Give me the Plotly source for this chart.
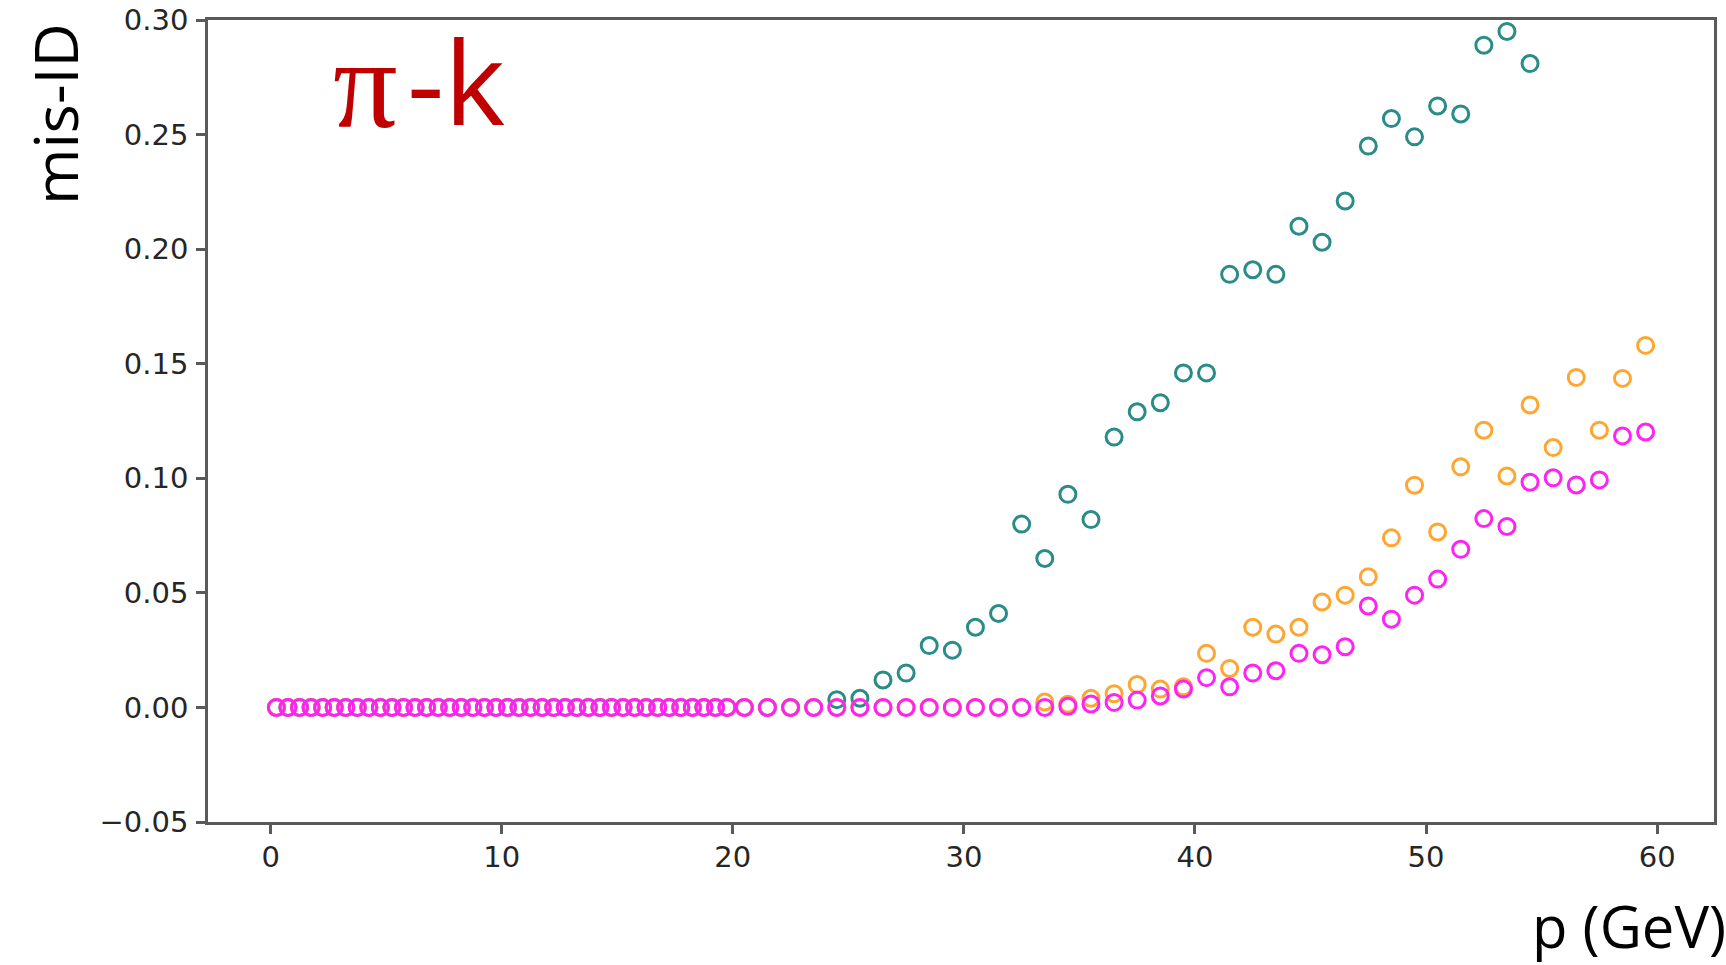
import plotly.graph_objects as go

# bin centres (GeV): 0.5-GeV bins below 20, 1-GeV bins above
p_fine = [0.25, 0.75, 1.25, 1.75, 2.25, 2.75, 3.25, 3.75, 4.25, 4.75,
          5.25, 5.75, 6.25, 6.75, 7.25, 7.75, 8.25, 8.75, 9.25, 9.75,
          10.25, 10.75, 11.25, 11.75, 12.25, 12.75, 13.25, 13.75, 14.25, 14.75,
          15.25, 15.75, 16.25, 16.75, 17.25, 17.75, 18.25, 18.75, 19.25, 19.75]
p_coarse = [20.5, 21.5, 22.5, 23.5, 24.5, 25.5, 26.5, 27.5, 28.5, 29.5,
            30.5, 31.5, 32.5, 33.5, 34.5, 35.5, 36.5, 37.5, 38.5, 39.5,
            40.5, 41.5, 42.5, 43.5, 44.5, 45.5, 46.5, 47.5, 48.5, 49.5,
            50.5, 51.5, 52.5, 53.5, 54.5, 55.5, 56.5, 57.5, 58.5, 59.5]
p_values = p_fine + p_coarse

zeros_fine = [0.0, 0.0, 0.0, 0.0, 0.0, 0.0, 0.0, 0.0, 0.0, 0.0,
              0.0, 0.0, 0.0, 0.0, 0.0, 0.0, 0.0, 0.0, 0.0, 0.0,
              0.0, 0.0, 0.0, 0.0, 0.0, 0.0, 0.0, 0.0, 0.0, 0.0,
              0.0, 0.0, 0.0, 0.0, 0.0, 0.0, 0.0, 0.0, 0.0, 0.0]

teal_coarse = [0.0, 0.0, 0.0, 0.0, 0.0034, 0.004, 0.012, 0.015, 0.027, 0.025,
               0.035, 0.041, 0.080, 0.065, 0.093, 0.082, 0.118, 0.129, 0.133, 0.146,
               0.146, 0.189, 0.191, 0.189, 0.210, 0.203, 0.221, 0.245, 0.257, 0.249,
               0.2625, 0.259, 0.289, 0.295, 0.281, None, None, None, None, None]
orange_coarse = [0.0, 0.0, 0.0, 0.0, 0.0, 0.0, 0.0, 0.0, 0.0, 0.0,
                 0.0, 0.0, 0.0, 0.0024, 0.0014, 0.004, 0.006, 0.010, 0.008, 0.009,
                 0.0236, 0.017, 0.035, 0.032, 0.035, 0.046, 0.049, 0.057, 0.074, 0.097,
                 0.0766, 0.105, 0.121, 0.101, 0.132, 0.1134, 0.144, 0.121, 0.1436, 0.158]
magenta_coarse = [0.0, 0.0, 0.0, 0.0, 0.0, 0.0, 0.0, 0.0, 0.0, 0.0,
                  0.0, 0.0, 0.0, 0.0, 0.0005, 0.0015, 0.0022, 0.0032, 0.005, 0.008,
                  0.013, 0.009, 0.015, 0.016, 0.0236, 0.023, 0.0265, 0.0443, 0.0385, 0.049,
                  0.056, 0.069, 0.0824, 0.079, 0.0983, 0.1002, 0.0971, 0.0993, 0.1185, 0.1202]

teal_vals = zeros_fine + teal_coarse
orange_vals = zeros_fine + orange_coarse
magenta_vals = zeros_fine + magenta_coarse

x_ticks = [0, 10, 20, 30, 40, 50, 60]
y_ticks = [-0.05, 0.0, 0.05, 0.10, 0.15, 0.20, 0.25, 0.30]
y_ticktext = ["\u22120.05", "0.00", "0.05", "0.10", "0.15", "0.20", "0.25", "0.30"]

series = [("teal", teal_vals, "#2a8c87"),
          ("orange", orange_vals, "#ffa630"),
          ("magenta", magenta_vals, "#ff22f4")]

W, H = 1726, 965
L, R, T, B = 208, 1714, 20, 822

fig = go.Figure()
for name, vals, col in series:
    fig.add_trace(go.Scatter(
        x=p_values, y=vals, mode="markers", name=name,
        marker=dict(symbol="circle-open", size=16, color=col,
                    line=dict(width=3, color=col)),
        cliponaxis=True, showlegend=False))

axis_common = dict(showline=True, linecolor="#5a5a5a", linewidth=2.5, mirror=True,
                   ticks="outside", ticklen=9, tickwidth=2.5, tickcolor="#5a5a5a",
                   showgrid=False, zeroline=False, automargin=False,
                   tickfont=dict(family="DejaVu Sans", size=29, color="#262626"))

fig.update_xaxes(range=[-2.71, 62.46], tickvals=x_ticks, ticklabelstandoff=-2,
                 **axis_common)
fig.update_yaxes(range=[-0.05, 0.30], tickvals=y_ticks, ticktext=y_ticktext,
                 ticklabelstandoff=2, **axis_common)


def px_to_paper(xp, yp):
    return (xp - L) / (R - L), (B - yp) / (B - T)


annos = []
# y label
ax, ay = px_to_paper(54, 114)
annos.append(dict(text="mis-ID", x=ax, y=ay, xref="paper", yref="paper",
                  textangle=-90, xanchor="center", yanchor="middle", showarrow=False,
                  font=dict(family="Open Sans", size=61, color="#000000")))
# x label
ax, ay = px_to_paper(1727, 926)
annos.append(dict(text="p (GeV)", x=ax, y=ay, xref="paper", yref="paper",
                  xanchor="right", yanchor="middle", showarrow=False, borderpad=0,
                  font=dict(family="Open Sans", size=58, color="#000000")))
# pi
ax, ay = px_to_paper(332, 84)
annos.append(dict(text="\u03c0", x=ax, y=ay, xref="paper", yref="paper",
                  xanchor="left", yanchor="middle", showarrow=False, borderpad=0,
                  font=dict(family="Liberation Serif", size=128, color="#c00000")))
# -k
ax, ay = px_to_paper(406, 80)
annos.append(dict(text="-k", x=ax, y=ay, xref="paper", yref="paper",
                  xanchor="left", yanchor="middle", showarrow=False, borderpad=0,
                  font=dict(family="Open Sans", size=116, color="#c00000")))

fig.update_layout(width=W, height=H,
                  margin=dict(l=L, r=W - R, t=T, b=H - B, pad=0, autoexpand=False),
                  paper_bgcolor="white", plot_bgcolor="white",
                  annotations=annos)

fig.write_html("out.html", config={"displayModeBar": False},
               post_script="document.body.style.margin='0';"
                           "document.body.style.overflow='hidden';")
